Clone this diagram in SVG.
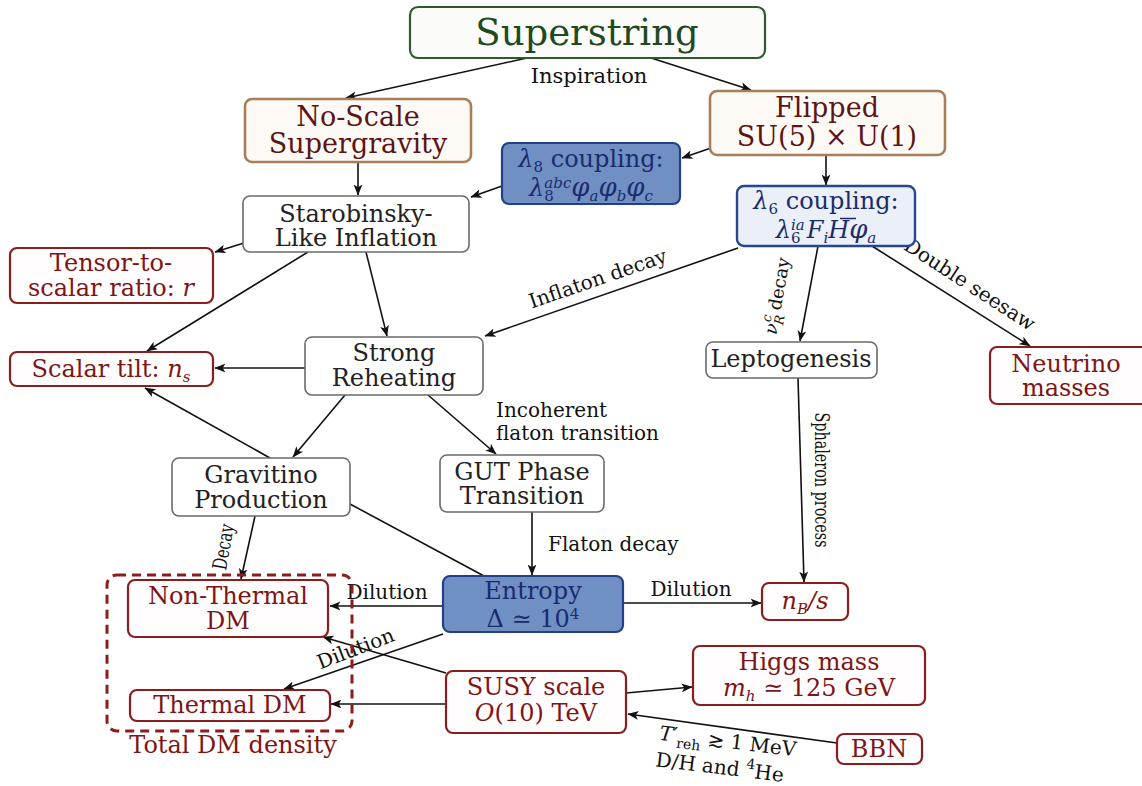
<svg xmlns="http://www.w3.org/2000/svg" width="1142" height="786" viewBox="0 0 1142 786">
<defs>
<marker id="ah" viewBox="0 0 10 10" refX="9.5" refY="5" markerWidth="11" markerHeight="11" markerUnits="userSpaceOnUse" orient="auto">
<path d="M0,1 L10,5 L0,9 L2.5,5 Z" fill="#111"/>
</marker>
<style>
text{font-family:"DejaVu Serif","Liberation Serif",serif;}
.n{font-size:24px;text-anchor:middle;}
.big{font-size:27px;text-anchor:middle;fill:#5e1414}
.g{fill:#fff;stroke:#6a6a6a;stroke-width:1.6}
.r{fill:#fffdfd;stroke:#8c1d1d;stroke-width:2.2}
.br{fill:#fdfaf6;stroke:#a87e5a;stroke-width:2.6}
.b{fill:#7090c4;stroke:#233f88;stroke-width:2.2}
.bl{fill:#eaeff8;stroke:#284690;stroke-width:2.4}
.tg{fill:#222}
.tr{fill:#7e1515}
.tb{fill:#1a2b6e}
.lbl{font-size:20px;fill:#111}
.e line{stroke:#111;stroke-width:1.6;fill:none}
.i{font-style:italic}
</style>
</defs>
<rect width="1142" height="786" fill="#fff"/>

<g id="connectors" class="e">
<line x1="527" y1="58" x2="346" y2="98" marker-end="url(#ah)"/>
<line x1="648" y1="57" x2="751" y2="90" marker-end="url(#ah)"/>
<line x1="358" y1="162" x2="358" y2="195" marker-end="url(#ah)"/>
<line x1="711" y1="148" x2="682" y2="158" marker-end="url(#ah)"/>
<line x1="826" y1="155" x2="826" y2="185" marker-end="url(#ah)"/>
<line x1="502" y1="186" x2="471" y2="197" marker-end="url(#ah)"/>
<line x1="244" y1="243" x2="215" y2="252" marker-end="url(#ah)"/>
<line x1="308" y1="252" x2="147" y2="351" marker-end="url(#ah)"/>
<line x1="366" y1="252" x2="387" y2="336" marker-end="url(#ah)"/>
<line x1="738" y1="248" x2="485" y2="336" marker-end="url(#ah)"/>
<line x1="818" y1="246" x2="800" y2="341" marker-end="url(#ah)"/>
<line x1="872" y1="246" x2="1030" y2="346" marker-end="url(#ah)"/>
<line x1="305" y1="368" x2="215" y2="368" marker-end="url(#ah)"/>
<line x1="270" y1="458" x2="145" y2="388" marker-end="url(#ah)"/>
<line x1="345" y1="395" x2="293" y2="457" marker-end="url(#ah)"/>
<line x1="428" y1="395" x2="496" y2="454" marker-end="url(#ah)"/>
<line x1="532" y1="512" x2="532" y2="575" marker-end="url(#ah)"/>
<line x1="350" y1="504" x2="484" y2="576"/>
<line x1="255" y1="516" x2="241" y2="579" marker-end="url(#ah)"/>
<line x1="443" y1="606" x2="330" y2="606" marker-end="url(#ah)"/>
<line x1="443" y1="634" x2="284" y2="689" marker-end="url(#ah)"/>
<line x1="623" y1="603" x2="761" y2="603" marker-end="url(#ah)"/>
<line x1="798" y1="378" x2="804" y2="582" marker-end="url(#ah)"/>
<line x1="446" y1="673" x2="323" y2="637" marker-end="url(#ah)"/>
<line x1="446" y1="704" x2="331" y2="704" marker-end="url(#ah)"/>
<line x1="626" y1="693" x2="692" y2="687" marker-end="url(#ah)"/>
<line x1="837" y1="743" x2="628" y2="714" marker-end="url(#ah)"/>
</g>

<g id="edge-labels" class="lbl">
<text x="589" y="83" font-size="21" text-anchor="middle">Inspiration</text>
<text transform="translate(600,285) rotate(-19)" text-anchor="middle">Inflaton decay</text>
<text transform="translate(783,297) rotate(-80)" text-anchor="middle" font-size="18"><tspan class="i">ν</tspan><tspan font-size="13" class="i" dy="5">R</tspan><tspan font-size="13" class="i" dx="-9" dy="-13">c</tspan><tspan dy="8"> decay</tspan></text>
<text transform="translate(966,290) rotate(33)" text-anchor="middle">Double seesaw</text>
<text x="496" y="417">Incoherent</text>
<text x="496" y="440">flaton transition</text>
<text x="548" y="551">Flaton decay</text>
<text transform="translate(230,548) rotate(-80)" text-anchor="middle" textLength="46" lengthAdjust="spacingAndGlyphs">Decay</text>
<text x="387" y="599" text-anchor="middle">Dilution</text>
<text transform="translate(358,655) rotate(-21)" text-anchor="middle">Dilution</text>
<text x="691" y="596" text-anchor="middle">Dilution</text>
<text transform="translate(815,480) rotate(90)" text-anchor="middle" textLength="135" lengthAdjust="spacingAndGlyphs">Sphaleron process</text>
<text transform="translate(727,748) rotate(7)" text-anchor="middle"><tspan class="i">T</tspan><tspan>′</tspan><tspan font-size="14" dy="6">reh</tspan><tspan dy="-6"> ≳ 1 MeV</tspan></text>
<text transform="translate(719,774) rotate(7)" text-anchor="middle">D/H and <tspan font-size="14" dy="-9">4</tspan><tspan dy="9">He</tspan></text>
</g>

<g id="superstring">
<rect x="410" y="7" width="355" height="51" rx="8" fill="#fbfcfa" stroke="#2c5a2c" stroke-width="2.2"/>
<text x="587" y="45" font-size="37" text-anchor="middle" fill="#1f4a1f">Superstring</text>
</g>
<g id="noscale">
<rect class="br" x="245" y="99" width="226" height="63" rx="7"/>
<text class="big" x="358" y="126">No-Scale</text>
<text class="big" x="358" y="153">Supergravity</text>
</g>
<g id="flipped">
<rect class="br" x="710" y="91" width="235" height="64" rx="7"/>
<text class="big" x="827" y="117">Flipped</text>
<text class="big" x="827" y="146">SU(5) × U(1)</text>
</g>
<g id="lambda8">
<rect class="b" x="502" y="143" width="178" height="61" rx="7"/>
<text class="n tb" x="591" y="167"><tspan class="i">λ</tspan><tspan font-size="15" dy="5">8</tspan><tspan dy="-5"> coupling:</tspan></text>
<text class="n tb" x="591" y="196"><tspan class="i">λ</tspan><tspan font-size="15" dy="5">8</tspan><tspan font-size="15" class="i" dx="-9.5" dy="-13">abc</tspan><tspan class="i" font-size="26" dy="8">φ</tspan><tspan class="i" font-size="15" dy="5">a</tspan><tspan class="i" font-size="26" dy="-5">φ</tspan><tspan class="i" font-size="15" dy="5">b</tspan><tspan class="i" font-size="26" dy="-5">φ</tspan><tspan class="i" font-size="15" dy="5">c</tspan></text>
</g>
<g id="lambda6">
<rect class="bl" x="737" y="186" width="178" height="60" rx="7"/>
<text class="n tb" x="826" y="209"><tspan class="i">λ</tspan><tspan font-size="15" dy="5">6</tspan><tspan dy="-5"> coupling:</tspan></text>
<text class="n tb" x="826" y="238"><tspan class="i">λ</tspan><tspan font-size="15" dy="5">6</tspan><tspan font-size="15" class="i" dx="-9.5" dy="-13">ia</tspan><tspan class="i" dy="8" dx="2">F</tspan><tspan class="i" font-size="15" dy="5">i</tspan><tspan class="i" dy="-5">H</tspan><tspan class="i" font-size="26">φ</tspan><tspan class="i" font-size="15" dy="5">a</tspan></text>
<line x1="840" y1="218.5" x2="856" y2="218.5" stroke="#1a2b6e" stroke-width="1.5"/>
</g>
<g id="starobinsky">
<rect class="g" x="243" y="196" width="226" height="56" rx="7"/>
<text class="n tg" x="356" y="222">Starobinsky-</text>
<text class="n tg" x="356" y="246">Like Inflation</text>
</g>
<g id="tensor">
<rect class="r" x="10" y="248" width="203" height="55" rx="7"/>
<text class="n tr" x="111" y="271">Tensor-to-</text>
<text class="n tr" x="111" y="296">scalar ratio: <tspan class="i">r</tspan></text>
</g>
<g id="scalar">
<rect class="r" x="10" y="352" width="203" height="34" rx="7"/>
<text class="n tr" x="111" y="377">Scalar tilt: <tspan class="i">n</tspan><tspan class="i" font-size="15" dy="5">s</tspan></text>
</g>
<g id="reheating">
<rect class="g" x="305" y="337" width="178" height="58" rx="7"/>
<text class="n tg" x="394" y="361">Strong</text>
<text class="n tg" x="394" y="386">Reheating</text>
</g>
<g id="leptogenesis">
<rect class="g" x="706" y="342" width="171" height="36" rx="7"/>
<text class="n tg" x="791" y="367">Leptogenesis</text>
</g>
<g id="neutrino">
<rect class="r" x="990" y="347" width="170" height="57" rx="7"/>
<text class="n tr" x="1066" y="372">Neutrino</text>
<text class="n tr" x="1066" y="396">masses</text>
</g>
<g id="gravitino">
<rect class="g" x="172" y="458" width="178" height="58" rx="7"/>
<text class="n tg" x="261" y="483">Gravitino</text>
<text class="n tg" x="261" y="508">Production</text>
</g>
<g id="gut">
<rect class="g" x="440" y="455" width="164" height="57" rx="7"/>
<text class="n tg" x="522" y="480">GUT Phase</text>
<text class="n tg" x="522" y="504">Transition</text>
</g>
<g id="entropy">
<rect class="b" x="443" y="576" width="180" height="56" rx="7"/>
<text class="n tb" x="533" y="599">Entropy</text>
<text class="n tb" x="533" y="627">Δ ≃ 10<tspan font-size="15" dy="-8">4</tspan></text>
</g>
<g id="nbs">
<rect class="r" x="762" y="583" width="86" height="37" rx="7"/>
<text class="n tr" x="805" y="609"><tspan class="i">n</tspan><tspan class="i" font-size="15" dy="5">B</tspan><tspan class="i" dy="-5">/s</tspan></text>
</g>
<g id="total-dm">
<rect x="107" y="575" width="245" height="156" rx="10" fill="none" stroke="#8c1d1d" stroke-width="3" stroke-dasharray="9,6"/>
<text class="n tr" x="233" y="753">Total DM density</text>
</g>
<g id="nonthermal">
<rect class="r" x="128" y="580" width="200" height="57" rx="7"/>
<text class="n tr" x="228" y="604">Non-Thermal</text>
<text class="n tr" x="228" y="629">DM</text>
</g>
<g id="thermal">
<rect class="r" x="130" y="690" width="200" height="31" rx="7"/>
<text class="n tr" x="230" y="713">Thermal DM</text>
</g>
<g id="susy">
<rect class="r" x="446" y="671" width="180" height="62" rx="7"/>
<text class="n tr" x="536" y="695">SUSY scale</text>
<text class="n tr" x="536" y="721"><tspan class="i">O</tspan>(10) TeV</text>
</g>
<g id="higgs">
<rect class="r" x="693" y="646" width="232" height="59" rx="7"/>
<text class="n tr" x="809" y="670">Higgs mass</text>
<text class="n tr" x="809" y="696"><tspan class="i">m</tspan><tspan class="i" font-size="15" dy="5">h</tspan><tspan dy="-5"> ≃ 125 GeV</tspan></text>
</g>
<g id="bbn">
<rect class="r" x="837" y="734" width="85" height="30" rx="7"/>
<text class="n tr" x="879" y="757">BBN</text>
</g>
</svg>
